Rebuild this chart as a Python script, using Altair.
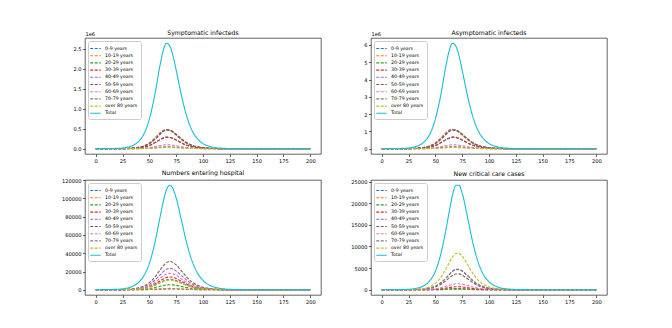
import altair as alt
import pandas as pd

days = [0, 20, 30, 35, 40, 45, 50, 55, 60, 63, 66, 69, 72, 75, 80, 85, 90, 95, 100, 105, 110, 120, 130, 150, 200]

groups = ["0-9 years", "10-19 years", "20-29 years", "30-39 years", "40-49 years",
          "50-59 years", "60-69 years", "70-79 years", "over 80 years", "Total"]
colors = ["#1f77b4", "#ff7f0e", "#2ca02c", "#d62728", "#9467bd",
          "#8c564b", "#e377c2", "#7f7f7f", "#bcbd22", "#17becf"]
x_ticks = [0, 25, 50, 75, 100, 125, 150, 175, 200]

# Symptomatic infecteds (units of 1e6)
sym_00 = [0, 0.001, 0.005, 0.01, 0.02, 0.041, 0.081, 0.147, 0.23, 0.271, 0.29, 0.282, 0.256, 0.216, 0.145, 0.087, 0.049, 0.027, 0.014, 0.007, 0.004, 0.001, 0, 0, 0]
sym_10 = [0, 0.002, 0.009, 0.018, 0.038, 0.076, 0.15, 0.268, 0.405, 0.462, 0.478, 0.455, 0.405, 0.338, 0.222, 0.131, 0.073, 0.04, 0.021, 0.011, 0.006, 0.002, 0, 0, 0]
sym_20 = [0, 0.002, 0.007, 0.016, 0.033, 0.067, 0.132, 0.238, 0.373, 0.439, 0.47, 0.458, 0.415, 0.35, 0.235, 0.141, 0.079, 0.043, 0.023, 0.012, 0.006, 0.002, 0, 0, 0]
sym_30 = [0, 0.001, 0.004, 0.01, 0.02, 0.04, 0.08, 0.146, 0.229, 0.27, 0.289, 0.283, 0.257, 0.217, 0.146, 0.088, 0.05, 0.027, 0.014, 0.008, 0.004, 0.001, 0, 0, 0]
sym_40 = [0, 0.002, 0.008, 0.016, 0.033, 0.068, 0.135, 0.243, 0.381, 0.448, 0.48, 0.468, 0.423, 0.357, 0.24, 0.144, 0.081, 0.044, 0.024, 0.012, 0.006, 0.002, 0, 0, 0]
sym_50 = [0, 0.001, 0.007, 0.015, 0.031, 0.063, 0.125, 0.228, 0.361, 0.43, 0.466, 0.462, 0.425, 0.362, 0.246, 0.15, 0.085, 0.047, 0.025, 0.013, 0.007, 0.002, 0.001, 0, 0]
sym_60 = [0, 0, 0.002, 0.003, 0.007, 0.014, 0.028, 0.051, 0.079, 0.093, 0.1, 0.097, 0.088, 0.074, 0.05, 0.03, 0.017, 0.009, 0.005, 0.003, 0.001, 0, 0, 0, 0]
sym_70 = [0, 0, 0.001, 0.002, 0.003, 0.007, 0.014, 0.025, 0.04, 0.047, 0.05, 0.049, 0.044, 0.037, 0.025, 0.015, 0.008, 0.005, 0.002, 0.001, 0.001, 0, 0, 0, 0]
sym_80 = [0, 0, 0, 0.001, 0.002, 0.004, 0.008, 0.015, 0.024, 0.028, 0.03, 0.029, 0.026, 0.022, 0.015, 0.009, 0.005, 0.003, 0.001, 0.001, 0, 0, 0, 0, 0]
sym_tot = [0.001, 0.009, 0.041, 0.088, 0.184, 0.375, 0.742, 1.338, 2.094, 2.463, 2.637, 2.571, 2.328, 1.964, 1.32, 0.795, 0.446, 0.243, 0.129, 0.068, 0.036, 0.01, 0.003, 0, 0]

# Asymptomatic infecteds (units of 1e6)
asy_00 = [0, 0.002, 0.011, 0.022, 0.047, 0.095, 0.188, 0.34, 0.531, 0.625, 0.669, 0.653, 0.591, 0.498, 0.335, 0.202, 0.113, 0.062, 0.033, 0.017, 0.009, 0.002, 0.001, 0, 0]
asy_10 = [0, 0.005, 0.021, 0.042, 0.089, 0.177, 0.35, 0.624, 0.944, 1.076, 1.114, 1.06, 0.944, 0.788, 0.517, 0.305, 0.17, 0.093, 0.049, 0.026, 0.014, 0.005, 0.001, 0, 0]
asy_20 = [0, 0.004, 0.017, 0.036, 0.076, 0.155, 0.306, 0.553, 0.864, 1.017, 1.089, 1.062, 0.961, 0.811, 0.545, 0.328, 0.184, 0.1, 0.053, 0.028, 0.015, 0.004, 0.001, 0, 0]
asy_30 = [0, 0.002, 0.01, 0.022, 0.046, 0.094, 0.186, 0.338, 0.529, 0.623, 0.668, 0.655, 0.594, 0.501, 0.338, 0.204, 0.115, 0.063, 0.033, 0.018, 0.009, 0.003, 0.001, 0, 0]
asy_40 = [0, 0.004, 0.018, 0.037, 0.078, 0.159, 0.315, 0.568, 0.888, 1.045, 1.119, 1.091, 0.988, 0.833, 0.56, 0.337, 0.189, 0.103, 0.055, 0.029, 0.015, 0.004, 0.001, 0, 0]
asy_50 = [0, 0.003, 0.016, 0.034, 0.072, 0.147, 0.29, 0.529, 0.837, 0.997, 1.081, 1.071, 0.986, 0.839, 0.571, 0.348, 0.197, 0.109, 0.058, 0.03, 0.016, 0.005, 0.002, 0, 0]
asy_60 = [0, 0.001, 0.004, 0.008, 0.016, 0.033, 0.065, 0.117, 0.182, 0.215, 0.23, 0.224, 0.203, 0.171, 0.115, 0.069, 0.039, 0.021, 0.011, 0.006, 0.003, 0.001, 0, 0, 0]
asy_70 = [0, 0, 0.002, 0.004, 0.008, 0.017, 0.034, 0.061, 0.095, 0.112, 0.12, 0.117, 0.106, 0.089, 0.06, 0.036, 0.02, 0.011, 0.006, 0.003, 0.002, 0, 0, 0, 0]
asy_80 = [0, 0, 0.001, 0.002, 0.005, 0.01, 0.02, 0.035, 0.056, 0.065, 0.07, 0.068, 0.062, 0.052, 0.035, 0.021, 0.012, 0.006, 0.003, 0.002, 0.001, 0, 0, 0, 0]
asy_tot = [0.001, 0.021, 0.096, 0.203, 0.425, 0.866, 1.714, 3.093, 4.837, 5.691, 6.094, 5.941, 5.38, 4.538, 3.05, 1.836, 1.031, 0.561, 0.299, 0.157, 0.082, 0.023, 0.006, 0.001, 0]

# Numbers entering hospital
hos_00 = [0, 4, 16, 32, 64, 122, 227, 399, 626, 761, 862, 900, 871, 790, 594, 395, 243, 141, 80, 45, 25, 7, 2, 0, 0]
hos_10 = [0, 7, 27, 54, 106, 204, 378, 665, 1044, 1269, 1437, 1500, 1452, 1317, 990, 659, 405, 236, 134, 75, 41, 12, 4, 0, 0]
hos_20 = [2, 25, 101, 199, 389, 748, 1386, 2437, 3828, 4653, 5269, 5500, 5324, 4829, 3630, 2415, 1485, 864, 490, 274, 151, 46, 14, 1, 0]
hos_30 = [4, 64, 256, 505, 990, 1904, 3528, 6202, 9744, 11844, 13412, 14000, 13552, 12292, 9240, 6146, 3780, 2198, 1246, 697, 384, 116, 35, 3, 0]
hos_40 = [7, 108, 430, 848, 1661, 3196, 5922, 10411, 16356, 19881, 22513, 23500, 22748, 20633, 15510, 10317, 6345, 3690, 2092, 1170, 644, 195, 59, 5, 0]
hos_50 = [9, 143, 567, 1119, 2192, 4216, 7812, 13733, 21576, 26226, 29698, 31000, 30008, 27218, 20460, 13609, 8370, 4867, 2759, 1544, 849, 257, 78, 6, 0]
hos_60 = [5, 83, 329, 650, 1273, 2448, 4536, 7974, 12528, 15228, 17244, 18000, 17424, 15804, 11880, 7902, 4860, 2826, 1602, 896, 493, 149, 45, 4, 0]
hos_70 = [3, 53, 210, 415, 813, 1564, 2898, 5095, 8004, 9729, 11017, 11500, 11132, 10097, 7590, 5049, 3105, 1806, 1024, 573, 315, 95, 29, 2, 0]
hos_80 = [3, 48, 192, 379, 742, 1428, 2646, 4652, 7308, 8883, 10059, 10500, 10164, 9219, 6930, 4610, 2835, 1649, 935, 523, 288, 87, 26, 2, 0]
hos_tot = [34, 527, 2095, 4133, 8095, 15572, 28854, 50724, 79692, 96867, 109691, 114500, 110836, 100531, 75570, 50266, 30915, 17977, 10191, 5702, 3137, 950, 286, 23, 0]

# New critical care cases
icu_00 = [0, 0, 1, 2, 4, 9, 18, 33, 58, 74, 90, 99, 99, 92, 69, 44, 26, 14, 8, 4, 2, 1, 0, 0, 0]
icu_10 = [0, 0, 1, 3, 6, 13, 26, 50, 86, 112, 135, 148, 149, 137, 103, 66, 39, 21, 11, 6, 3, 1, 0, 0, 0]
icu_20 = [0, 1, 3, 6, 13, 26, 53, 100, 173, 223, 269, 296, 297, 275, 206, 133, 77, 42, 23, 12, 6, 2, 0, 0, 0]
icu_30 = [0, 2, 7, 14, 30, 61, 123, 234, 403, 521, 628, 692, 693, 641, 480, 309, 180, 99, 53, 28, 14, 4, 1, 0, 0]
icu_40 = [1, 11, 46, 97, 201, 411, 823, 1570, 2707, 3497, 4216, 4644, 4653, 4301, 3224, 2077, 1208, 663, 355, 185, 96, 25, 7, 0, 0]
icu_50 = [0, 8, 36, 76, 158, 324, 648, 1236, 2131, 2753, 3319, 3656, 3663, 3386, 2538, 1635, 951, 522, 279, 146, 75, 20, 5, 0, 0]
icu_60 = [0, 3, 14, 29, 60, 123, 245, 468, 806, 1042, 1256, 1383, 1386, 1281, 960, 619, 360, 197, 106, 55, 29, 8, 2, 0, 0]
icu_70 = [1, 11, 47, 99, 205, 420, 840, 1603, 2765, 3571, 4306, 4742, 4752, 4392, 3293, 2122, 1234, 677, 362, 189, 98, 26, 7, 0, 0]
icu_80 = [1, 19, 84, 175, 363, 744, 1488, 2839, 4896, 6324, 7625, 8398, 8415, 7778, 5831, 3757, 2185, 1199, 642, 335, 173, 46, 12, 1, 0]
icu_tot = [3, 55, 241, 503, 1042, 2135, 4270, 8150, 14054, 18154, 21887, 24107, 24156, 22326, 16738, 10785, 6271, 3440, 1842, 961, 498, 132, 34, 2, 0]

FONT = "DejaVu Sans"
W = 236


def frame(lists):
    rows = []
    for g, vals in zip(groups, lists):
        assert len(vals) == len(days), (g, len(vals))
        for d, v in zip(days, vals):
            rows.append({"day": d, "value": v, "series": g})
    return pd.DataFrame(rows)


def panel(lists, title, ydom, yticks, yfmt, exp_label, height):
    df = frame(lists)
    legend = alt.Legend(
        title=None, orient="top-left", offset=3, labelFont=FONT, labelFontSize=4.7,
        labelColor="black", symbolType="M-1.5,0L1.5,0", symbolSize=49, padding=3,
        rowPadding=0.2, labelOffset=5, strokeColor="#cccccc", fillColor="white",
        cornerRadius=2, labelLimit=0,
    )
    yaxis_kw = dict(values=yticks, format=yfmt, grid=False, tickSize=2.5, tickWidth=0.6,
                    tickColor="black", labelFont=FONT, labelFontSize=5.1, labelColor="black",
                    labelPadding=1.5, domain=False, minExtent=26, maxExtent=26)
    if exp_label:
        yaxis = alt.Axis(title=exp_label, titleAngle=0, titleX=0, titleY=-2, titleAlign="left",
                         titleBaseline="bottom", titleFont=FONT, titleFontSize=5.1,
                         titleFontWeight="normal", titleColor="black", **yaxis_kw)
        toff = -5
    else:
        yaxis = alt.Axis(title=None, **yaxis_kw)
        toff = 2.5
    xaxis = alt.Axis(values=x_ticks, format="d", grid=False, tickSize=2.5, tickWidth=0.6,
                     tickColor="black", labelFont=FONT, labelFontSize=5.1, labelColor="black",
                     labelPadding=1.5, domain=False, title=None, labelFlush=False)
    base = alt.Chart(df).encode(
        x=alt.X("day:Q", scale=alt.Scale(domain=[-10, 210], nice=False, zero=False), axis=xaxis),
        y=alt.Y("value:Q", scale=alt.Scale(domain=ydom, nice=False, zero=False), axis=yaxis),
        color=alt.Color("series:N", scale=alt.Scale(domain=groups, range=colors), legend=legend),
        strokeDash=alt.StrokeDash("series:N", scale=alt.Scale(domain=groups, range=[[3, 1.5]] * 9 + [[1, 0]]), legend=legend),
        strokeWidth=alt.StrokeWidth("series:N", scale=alt.Scale(domain=groups, range=[1.1] * 9 + [2.7]), legend=legend),
    )
    ages = base.transform_filter(alt.datum.series != "Total").mark_line(interpolate="monotone")
    total = base.transform_filter(alt.datum.series == "Total").mark_line(interpolate="monotone")
    return alt.layer(ages, total).properties(
        width=W, height=height,
        title=alt.TitleParams(title, font=FONT, fontSize=6.2, fontWeight="normal", color="black",
                              offset=toff, anchor="middle"),
    )


p1 = panel([sym_00, sym_10, sym_20, sym_30, sym_40, sym_50, sym_60, sym_70, sym_80, sym_tot],
           "Symptomatic infecteds", [-0.132, 2.769], [0, 0.5, 1.0, 1.5, 2.0, 2.5], ".1f", "1e6", 116)
p2 = panel([asy_00, asy_10, asy_20, asy_30, asy_40, asy_50, asy_60, asy_70, asy_80, asy_tot],
           "Asymptomatic infecteds", [-0.305, 6.399], [0, 1, 2, 3, 4, 5, 6], "d", "1e6", 116)
p3 = panel([hos_00, hos_10, hos_20, hos_30, hos_40, hos_50, hos_60, hos_70, hos_80, hos_tot],
           "Numbers entering hospital", [-5725, 120225], [0, 20000, 40000, 60000, 80000, 100000, 120000], "d", None, 115)
p4 = panel([icu_00, icu_10, icu_20, icu_30, icu_40, icu_50, icu_60, icu_70, icu_80, icu_tot],
           "New critical care cases", [-1208, 25364], [0, 5000, 10000, 15000, 20000, 25000], "d", None, 115)

ind = dict(color="independent", strokeDash="independent", strokeWidth="independent")
row1 = alt.hconcat(p1, p2, spacing=22).resolve_scale(**ind).resolve_legend(**ind)
row2 = alt.hconcat(p3, p4, spacing=22).resolve_scale(**ind).resolve_legend(**ind)

chart = (
    alt.vconcat(row1, row2, spacing=5)
    .resolve_scale(**ind)
    .resolve_legend(**ind)
    .properties(padding={"left": 50, "top": 21, "right": 5, "bottom": 5}, background="white")
    .configure_view(stroke="#222222", strokeWidth=0.7)
)

chart.save("out.html", embed_options={"renderer": "svg", "actions": False})
